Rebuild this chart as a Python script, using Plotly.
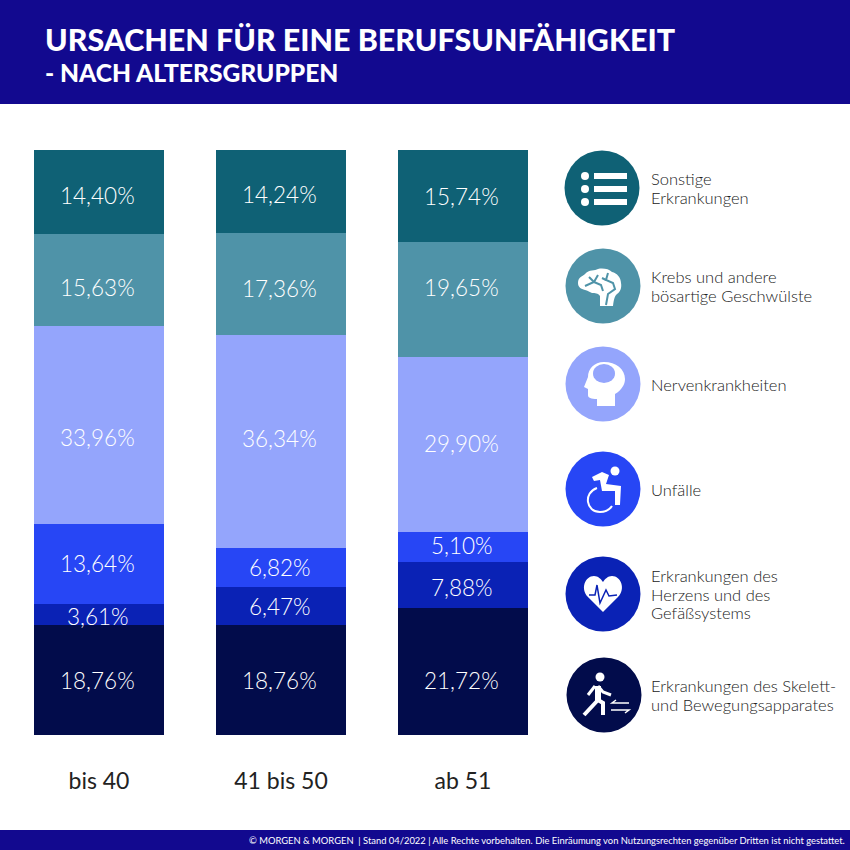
import plotly.graph_objects as go

# age groups and shares in percent, bottom to top of each stack
altersgruppen = ["bis 40", "41 bis 50", "ab 51"]
skelett = [18.76, 18.76, 21.72]
herz = [3.61, 6.47, 7.88]
unfaelle = [13.64, 6.82, 5.10]
nerven = [33.96, 36.34, 29.90]
krebs = [15.63, 17.36, 19.65]
sonstige = [14.40, 14.24, 15.74]

reihen = [skelett, herz, unfaelle, nerven, krebs, sonstige]
namen = [
    "Erkrankungen des Skelett-<br>und Bewegungsapparates",
    "Erkrankungen des<br>Herzens und des<br>Gefäßsystems",
    "Unfälle",
    "Nervenkrankheiten",
    "Krebs und andere<br>bösartige Geschwülste",
    "Sonstige<br>Erkrankungen",
]
farben = ["#020C4B", "#0A22B5", "#2746F5", "#94A5FC", "#4F93A8", "#0F6175"]

# the labels do not sit exactly mid-segment in the original, nudge in pixels (down = positive)
versatz = [
    [0, 0, 9],
    [1.5, 0, 3],
    [-1, 0, -1],
    [12, -3, -1],
    [8, 4, -12],
    [3, 3, 0],
]

W = 850
H = 850
BLAU = "#12098F"
FONT = "Lato"


def px(x):
    return x / W


def py(y):
    return 1 - y / H


def pfad(cx, cy, teile):
    # icon path given as offsets from the circle centre, turned into paper coords
    out = []
    for t in teile:
        if isinstance(t, str):
            out.append(t)
        else:
            out.append(f"{px(cx + t[0]):.5f},{py(cy + t[1]):.5f}")
    return " ".join(out)


def kette(*punkte, zu=False):
    teile = []
    for i, p in enumerate(punkte):
        teile += ["M" if i == 0 else "L", p]
    if zu:
        teile.append("Z")
    return teile


def kreis(cx, cy, r, farbe):
    return dict(type="circle", xref="paper", yref="paper", x0=px(cx - r), x1=px(cx + r),
                y0=py(cy + r), y1=py(cy - r), fillcolor=farbe, line_width=0, layer="above")


def flaeche(cx, cy, teile, farbe="white"):
    return dict(type="path", xref="paper", yref="paper", path=pfad(cx, cy, teile),
                fillcolor=farbe, line_width=0, layer="above")


def strich(cx, cy, teile, farbe="white", breite=2):
    return dict(type="path", xref="paper", yref="paper", path=pfad(cx, cy, teile),
                line=dict(color=farbe, width=breite), layer="above")


fig = go.Figure()
for werte, farbe, name in zip(reihen, farben, namen):
    fig.add_trace(go.Bar(
        x=altersgruppen,
        y=werte,
        name=name.replace("<br>", " "),
        marker=dict(color=farbe, line_width=0),
        hoverinfo="skip",
    ))

shapes = [
    dict(type="rect", xref="paper", yref="paper", x0=0, x1=1, y0=py(104), y1=1, fillcolor=BLAU, line_width=0),
    dict(type="rect", xref="paper", yref="paper", x0=0, x1=1, y0=0, y1=py(830), fillcolor=BLAU, line_width=0),
]

# legend circles, same order as the traces
mitten = [(604, 695), (603, 594), (603, 489), (603, 384), (603, 286), (602, 188)]
for (cx, cy), farbe in zip(mitten, farben):
    shapes.append(kreis(cx, cy, 37.5, farbe))

# Sonstige: list
cx, cy = mitten[5]
for dy in (-12, 1, 14):
    shapes.append(flaeche(cx, cy, kette((-8, dy - 3), (25, dy - 3), (25, dy + 3), (-8, dy + 3), zu=True)))
    shapes.append(kreis(cx - 17, cy + dy, 4, "white"))

# Krebs: brain
cx, cy = mitten[4]
shapes.append(flaeche(cx, cy, [
    "M", (-25, -3), "C", (-25, -9), (-20, -10), (-18, -12), "C", (-14, -17), (-8, -15), (-5, -17),
    "C", (0, -18), (6, -17), (9, -14), "C", (14, -13), (18, -8), (18, -3), "C", (19, 2), (17, 6), (14, 8),
    "C", (12, 10), (11, 12), (10, 20), "L", (-3, 20), "L", (-3, 10), "C", (-5, 7), (-8, 7), (-11, 7),
    "C", (-15, 5), (-17, 4), (-18, 4), "C", (-22, 3), (-25, 1), (-25, -3), "Z",
]))
for linie in ([(-18, 0), (-9, -4), (-5, -11)], [(-9, -4), (-2, -1), (0, 5)], [(-14, -9), (-9, -4)],
              [(5, -13), (3, -6), (10, -3), (12, 3), (5, 8), (3, 19)], [(3, -6), (-1, -8)]):
    shapes.append(strich(cx, cy, kette(*linie), farben[4], 2))

# Nerven: head
cx, cy = mitten[3]
shapes.append(flaeche(cx, cy, [
    "M", (-6, 22), "L", (12, 22), "L", (12, 10), "C", (19, 6), (22, 0), (22, -5),
    "C", (22, -15), (13, -22), (1, -22), "C", (-9, -22), (-15, -15), (-15, -7),
    "L", (-19, 3), "L", (-15, 5), "L", (-15, 11), "C", (-15, 14), (-12, 15), (-6, 15), "Z",
]))
shapes.append(dict(type="circle", xref="paper", yref="paper", x0=px(cx - 10), x1=px(cx + 12),
                   y0=py(cy - 1), y1=py(cy - 20), fillcolor=farben[3], line_width=0, layer="above"))

# Unfaelle: wheelchair
cx, cy = mitten[2]
shapes.append(kreis(cx + 12, cy - 18, 4.5, "white"))
shapes.append(flaeche(cx, cy, kette((-11, -12), (-1, -17), (6, -14), (3, -5), (18, -3), (17, 16), (12, 16),
                                    (12, 2), (-1, 2), (-3, -9), (-9, -8), zu=True)))
shapes.append(strich(cx, cy, ["M", (-6, -1), "C", (-20, 4), (-17, 23), (-3, 23), "C", (3, 23), (7, 20), (9, 17)], "white", 2))

# Herz: heart with pulse line
cx, cy = mitten[1]
shapes.append(flaeche(cx, cy, [
    "M", (0, 18), "L", (-15, 3), "C", (-23, -5), (-18, -18), (-9, -18), "C", (-5, -18), (-2, -15), (0, -12),
    "C", (2, -15), (5, -18), (9, -18), "C", (18, -18), (23, -5), (15, 3), "Z",
]))
shapes.append(strich(cx, cy, kette((-14, 1), (-8, 1), (-6, -9), (-3, 9), (3, -4), (6, 2), (14, 1)), farben[1], 1.5))

# Skelett: walking person with arrows
cx, cy = mitten[0]
shapes.append(kreis(cx - 4, cy - 18, 4.5, "white"))
shapes.append(strich(cx, cy, kette((-6, -9), (-6, 6)), "white", 6))
shapes.append(strich(cx, cy, kette((-6, 5), (-20, 20)), "white", 4))
shapes.append(strich(cx, cy, kette((-6, 5), (-1, 8), (-1, 20)), "white", 4))
shapes.append(strich(cx, cy, kette((-6, -9), (-1, -3), (7, 0)), "white", 3))
shapes.append(strich(cx, cy, kette((-9, -9), (-16, 0)), "white", 3))
shapes.append(strich(cx, cy, kette((25, 8), (8, 8), (12, 5)), "white", 1.5))
shapes.append(strich(cx, cy, kette((7, 15), (25, 15), (21, 18)), "white", 1.5))

annotations = [
    dict(text="URSACHEN FÜR EINE BERUFSUNFÄHIGKEIT", x=px(42.5), y=py(39), font=dict(family=FONT, size=30.4, color="white", weight=900)),
    dict(text="- NACH ALTERSGRUPPEN", x=px(42.5), y=py(72), font=dict(family=FONT, size=24.6, color="white", weight=900)),
]
# legend labels beside the circles, one annotation per line for the tight line spacing
for (cx, cy), name in zip(mitten, namen):
    zeilen = name.split("<br>")
    for i, zeile in enumerate(zeilen):
        y = cy + 0.5 + (i - (len(zeilen) - 1) / 2) * 18.5
        annotations.append(dict(text=zeile, x=px(649), y=py(y), font=dict(family=FONT, size=16.5, color="#222222", weight=300)))
for a in annotations:
    a.update(xref="paper", yref="paper", xanchor="left", yanchor="middle", showarrow=False)
annotations.append(dict(
    text="© MORGEN & MORGEN  | Stand 04/2022 | Alle Rechte vorbehalten. Die Einräumung von Nutzungsrechten gegenüber Dritten ist nicht gestattet.",
    xref="paper", yref="paper", x=px(847), y=py(840), xanchor="right", yanchor="middle", showarrow=False,
    font=dict(family=FONT, size=9.4, color="white"),
))

# percentage labels in the bars
for werte, nudges, start in zip(reihen, versatz, [[sum(r[i] for r in reihen[:k]) for i in range(3)] for k in range(6)]):
    for gruppe, v, s, n in zip(altersgruppen, werte, start, nudges):
        annotations.append(dict(
            text=f"{v:.2f}%".replace(".", ","),
            x=gruppe, y=s + v / 2, xref="x", yref="y", xshift=-1.5, yshift=-n,
            showarrow=False,
            font=dict(family=FONT, size=22.5, color="white", weight=300),
        ))

fig.update_layout(
    width=W,
    height=H,
    margin=dict(l=0, r=0, t=0, b=0),
    barmode="stack",
    bargap=52 / 182,
    showlegend=False,
    paper_bgcolor="white",
    plot_bgcolor="white",
    shapes=shapes,
    annotations=annotations,
    xaxis=dict(
        domain=[0, 1],
        range=[-99 / 182, (W - 99) / 182],
        type="category",
        showgrid=False,
        zeroline=False,
        ticks="outside",
        ticklen=25,
        tickcolor="rgba(0,0,0,0)",
        tickfont=dict(family=FONT, size=23, color="#222222"),
        showline=False,
    ),
    yaxis=dict(
        domain=[py(735), py(150)],
        range=[0, 100],
        visible=False,
        showgrid=False,
        zeroline=False,
    ),
)

# default body margin would push the figure 8px off the page
fig.write_html("out.html", config={"displayModeBar": False}, post_script="document.body.style.margin='0';")
